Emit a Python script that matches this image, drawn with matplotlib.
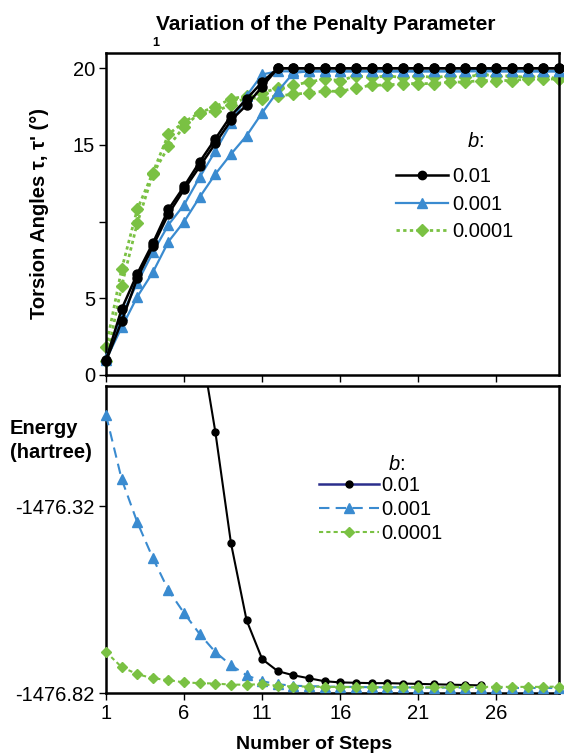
import matplotlib
matplotlib.use("Agg")
import matplotlib.pyplot as plt
from matplotlib.lines import Line2D

plt.rcParams['font.family'] = ['Liberation Sans', 'DejaVu Sans']
plt.rcParams['mathtext.fontset'] = 'custom'
plt.rcParams['mathtext.it'] = 'Liberation Sans:italic'
plt.rcParams['mathtext.rm'] = 'Liberation Sans'

# ---- data ----
steps = list(range(1, 31))
b_labels = ['0.01', '0.001', '0.0001']

# torsion angles (deg), two curves (tau, tau') per b value
tau_b01_a = [1.0, 4.3, 6.6, 8.6, 10.8, 12.3, 13.9, 15.4, 16.9, 18.0, 19.1, 20.0,
             20.0, 20.0, 20.0, 20.0, 20.0, 20.0, 20.0, 20.0, 20.0, 20.0, 20.0, 20.0,
             20.0, 20.0, 20.0, 20.0, 20.0, 20.0]
tau_b01_b = [0.9, 3.5, 6.3, 8.4, 10.5, 12.1, 13.6, 15.1, 16.6, 17.6, 18.8, 20.0,
             20.0, 20.0, 20.0, 20.0, 20.0, 20.0, 20.0, 20.0, 20.0, 20.0, 20.0, 20.0,
             20.0, 20.0, 20.0, 20.0, 20.0, 20.0]
tau_b001_a = [1.1, 3.9, 6.0, 8.0, 9.8, 11.1, 12.9, 14.6, 16.4, 18.2, 19.6, 19.8,
              19.8, 19.8, 19.8, 19.8, 19.8, 19.8, 19.8, 19.8, 19.8, 19.8, 19.8, 19.8,
              20.0, 19.8, 19.8, 19.8, 19.8, 19.8]
tau_b001_b = [1.0, 3.1, 5.1, 6.7, 8.7, 10.0, 11.6, 13.1, 14.4, 15.6, 17.1, 18.5,
              19.7, 19.8, 19.8, 19.8, 19.8, 19.8, 19.8, 19.8, 19.8, 19.8, 19.8, 19.8,
              19.8, 19.8, 19.8, 19.8, 19.8, 19.8]
tau_b0001_a = [1.8, 6.9, 10.8, 13.2, 15.7, 16.5, 17.1, 17.5, 18.0, 18.2, 18.4, 18.7,
               18.9, 19.1, 19.3, 19.2, 19.5, 19.4, 19.5, 19.4, 19.5, 19.4, 19.5, 19.4,
               19.6, 19.5, 19.5, 19.4, 19.5, 19.3]
tau_b0001_b = [0.9, 5.8, 9.9, 13.1, 14.9, 16.2, 17.1, 17.2, 17.6, 18.1, 18.0, 18.2,
               18.3, 18.4, 18.5, 18.5, 18.7, 18.9, 18.9, 19.0, 19.0, 19.0, 19.1, 19.1,
               19.2, 19.2, 19.2, 19.3, 19.3, 19.3]

# energies (hartree)
steps_b01 = list(range(7, 26))
energy_b01 = [-1475.870, -1476.122, -1476.419, -1476.625, -1476.729, -1476.761,
              -1476.772, -1476.780, -1476.788, -1476.791, -1476.792, -1476.793,
              -1476.793, -1476.794, -1476.795, -1476.796, -1476.797, -1476.798,
              -1476.799]
energy_b001 = [-1476.077, -1476.248, -1476.363, -1476.459, -1476.545, -1476.606,
               -1476.662, -1476.710, -1476.745, -1476.772, -1476.788, -1476.796,
               -1476.800, -1476.801, -1476.802, -1476.803, -1476.803, -1476.804,
               -1476.804, -1476.804, -1476.805, -1476.805, -1476.805, -1476.805,
               -1476.806, -1476.806, -1476.806, -1476.806, -1476.806, -1476.806]
energy_b0001 = [-1476.710, -1476.750, -1476.769, -1476.780, -1476.785, -1476.791,
                -1476.793, -1476.794, -1476.797, -1476.797, -1476.796, -1476.800,
                -1476.802, -1476.802, -1476.803, -1476.803, -1476.804, -1476.804,
                -1476.804, -1476.804, -1476.804, -1476.804, -1476.804, -1476.803,
                -1476.803, -1476.803, -1476.803, -1476.803, -1476.803, -1476.802]

BLACK = '#000000'
BLUE = '#3a8bd0'
GREEN = '#7ac143'
NAVY = '#2b2e8c'

fig = plt.figure(figsize=(5.64, 7.56), dpi=100)
ax1 = fig.add_axes([0.188, 0.504, 0.803, 0.426])
ax2 = fig.add_axes([0.188, 0.083, 0.803, 0.406])

# ---- top panel ----
for y in (tau_b01_a, tau_b01_b):
    ax1.plot(steps, y, color=BLACK, lw=1.8, marker='o', ms=6.5, clip_on=False, zorder=4)
for y in (tau_b001_a, tau_b001_b):
    ax1.plot(steps, y, color=BLUE, lw=1.6, marker='^', ms=7, clip_on=False, zorder=3)
for y in (tau_b0001_a, tau_b0001_b):
    ax1.plot(steps, y, color=GREEN, lw=2, ls=(0, (1.2, 1.2)), marker='D', ms=6,
             clip_on=False, zorder=2)

ax1.set_xlim(1, 30)
ax1.set_ylim(0, 21)
ax1.set_xticks([1, 6, 11, 16, 21, 26])
ax1.set_xticklabels([])
ax1.set_yticks([0, 5, 10, 15, 20])
ax1.set_yticklabels(['0', '5', '', '15', '20'])
ax1.set_ylabel("Torsion Angles τ, τ' (°)", fontsize=14.5, fontweight='bold')
ax1.yaxis.set_label_coords(-0.127, 0.5)

h1 = [Line2D([], [], color=BLACK, lw=1.8, marker='o', ms=6),
      Line2D([], [], color=BLUE, lw=1.6, marker='^', ms=7),
      Line2D([], [], color=GREEN, lw=2, ls=(0, (1.2, 1.2)), marker='D', ms=6)]
ax1.legend(h1, b_labels, loc='upper left', bbox_to_anchor=(0.64, 0.645),
           frameon=False, fontsize=14.5, handlelength=2.6, handletextpad=0.2,
           labelspacing=0.42, borderpad=0, borderaxespad=0)
ax1.text(0.815, 0.725, '$b$:', transform=ax1.transAxes, fontsize=14.5,
         ha='center', va='center')

# ---- bottom panel ----
ax2.plot(steps_b01, energy_b01, color=BLACK, lw=1.5, marker='o', ms=5, zorder=4)
ax2.plot(steps, energy_b001, color=BLUE, lw=1.5, ls=(0, (5, 3)), marker='^', ms=7,
         clip_on=False, zorder=3)
ax2.plot(steps, energy_b0001, color=GREEN, lw=1.5, ls=(0, (2, 1.5)), marker='D', ms=5.5,
         clip_on=False, zorder=5)

ax2.set_xlim(1, 30)
ax2.set_ylim(-1476.82, -1476.0)
ax2.set_xticks([1, 6, 11, 16, 21, 26])
ax2.set_xticklabels(['1', '6', '11', '16', '21', '26'])
ax2.set_yticks([-1476.82, -1476.32])
ax2.set_yticklabels(['-1476.82', '-1476.32'])
ax2.text(-0.213, 0.824, 'Energy\n(hartree)', transform=ax2.transAxes, fontsize=14.5,
         fontweight='bold', ha='left', va='center', linespacing=1.35)

h2 = [Line2D([], [], color=NAVY, lw=1.8, marker='o', ms=5, markerfacecolor=BLACK,
             markeredgecolor=BLACK),
      Line2D([], [], color=BLUE, lw=1.5, ls=(0, (5, 3)), marker='^', ms=7),
      Line2D([], [], color=GREEN, lw=1.5, ls=(0, (2, 1.5)), marker='D', ms=5)]
ax2.legend(h2, b_labels, loc='upper left', bbox_to_anchor=(0.47, 0.707),
           frameon=False, fontsize=14.5, handlelength=3.0, handletextpad=0.1,
           labelspacing=0.25, borderpad=0, borderaxespad=0)
ax2.text(0.642, 0.745, '$b$:', transform=ax2.transAxes, fontsize=14.5,
         ha='center', va='center')

for ax in (ax1, ax2):
    for s in ax.spines.values():
        s.set_linewidth(1.8)
    ax.tick_params(direction='out', length=5, width=1, labelsize=14.5, pad=3)

fig.text(0.578, 0.968, 'Variation of the Penalty Parameter', fontsize=15,
         fontweight='bold', ha='center', va='center')
fig.text(0.277, 0.943, '1', fontsize=9, fontweight='bold', ha='center', va='center')
fig.text(0.557, 0.015, 'Number of Steps', fontsize=14, fontweight='bold',
         ha='center', va='center')

fig.savefig('out.png', dpi=100)
